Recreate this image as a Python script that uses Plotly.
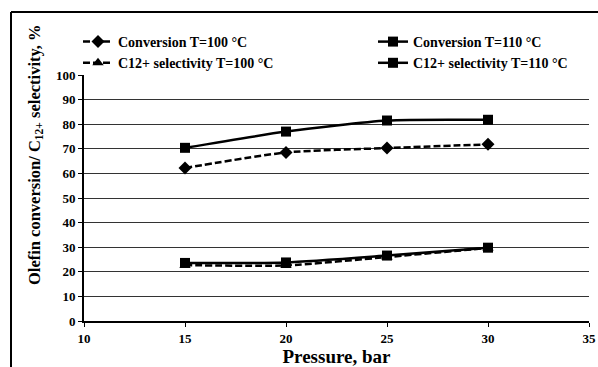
import plotly.graph_objects as go

pressure = [15, 20, 25, 30]
conv_100 = [62.2, 68.5, 70.3, 71.8]
conv_110 = [70.4, 77.0, 81.5, 81.8]
sel_100 = [22.7, 22.6, 26.0, 29.7]
sel_110 = [23.6, 23.8, 26.6, 29.8]

names = ["Conversion T=100 °C", "Conversion T=110 °C",
         "C12+ selectivity T=100 °C", "C12+ selectivity T=110 °C"]
y_title = "Olefin conversion/ C<sub>12+</sub> selectivity, %"
x_title = "Pressure, bar"

FONT = "Liberation Serif"

L, R, T, B = 84, 9, 75, 46
W, H = 598, 367
pw, ph = W - L - R, H - T - B


def px_x(x):
    return (x - L) / pw


def px_y(y):
    return (H - B - y) / ph


fig = go.Figure()
series = [
    (conv_100, names[0], "dash", "diamond", 10, "legend"),
    (conv_110, names[1], "solid", "square", 10, "legend2"),
    (sel_100, names[2], "dash", "triangle-up", 10, "legend"),
    (sel_110, names[3], "solid", "square", 10, "legend2"),
]
for vals, nm, dash, sym, ms, lg in series:
    fig.add_trace(go.Scatter(
        x=pressure, y=vals, name=nm, mode="lines+markers", legend=lg,
        line=dict(color="black", width=2.5,
                  dash="7px,3px" if dash == "dash" else "solid",
                  shape="spline", smoothing=0.6),
        marker=dict(symbol=sym, size=ms, color="black"),
    ))

leg_common = dict(
    orientation="v", yanchor="top", xanchor="left",
    font=dict(family=FONT, size=14, color="black", weight="bold"),
    bgcolor="rgba(0,0,0,0)", tracegroupgap=0, itemwidth=30,
)

fig.update_layout(
    width=W, height=H,
    margin=dict(l=L, r=R, t=T, b=B, autoexpand=False),
    paper_bgcolor="white", plot_bgcolor="white",
    font=dict(family=FONT, size=13, color="black"),
    showlegend=True,
    legend=dict(x=px_x(78), y=px_y(26), **leg_common),
    legend2=dict(x=px_x(373), y=px_y(26), **leg_common),
    xaxis=dict(
        range=[10, 35], tickvals=[10, 15, 20, 25, 30, 35], showgrid=False, zeroline=False,
        showline=True, linecolor="black", linewidth=2, ticks="outside", ticklen=4,
        tickcolor="black", tickwidth=1, automargin=False,
        tickfont=dict(family=FONT, size=13, weight="bold"),
        title=dict(text=x_title, font=dict(family=FONT, size=19, weight="bold"), standoff=2),
    ),
    yaxis=dict(
        range=[0, 100], tickvals=list(range(0, 101, 10)), showgrid=True, gridcolor="#333333",
        gridwidth=1, zeroline=False, automargin=False,
        showline=True, linecolor="black", linewidth=2, ticks="outside", ticklen=4,
        tickcolor="black", tickwidth=1,
        tickfont=dict(family=FONT, size=13, weight="bold"),
    ),
    annotations=[
        dict(text=y_title, xref="paper", yref="paper", x=px_x(35), y=px_y(155),
             textangle=-90, showarrow=False, xanchor="center", yanchor="middle",
             font=dict(family=FONT, size=16.5, color="black", weight="bold")),
    ],
    shapes=[
        dict(type="line", xref="paper", yref="paper", x0=px_x(11), x1=px_x(610),
             y0=px_y(12), y1=px_y(12), line=dict(color="black", width=2)),
        dict(type="line", xref="paper", yref="paper", x0=px_x(11), x1=px_x(11),
             y0=px_y(12), y1=px_y(380), line=dict(color="black", width=2)),
    ],
)

fig.write_html("out.html")
